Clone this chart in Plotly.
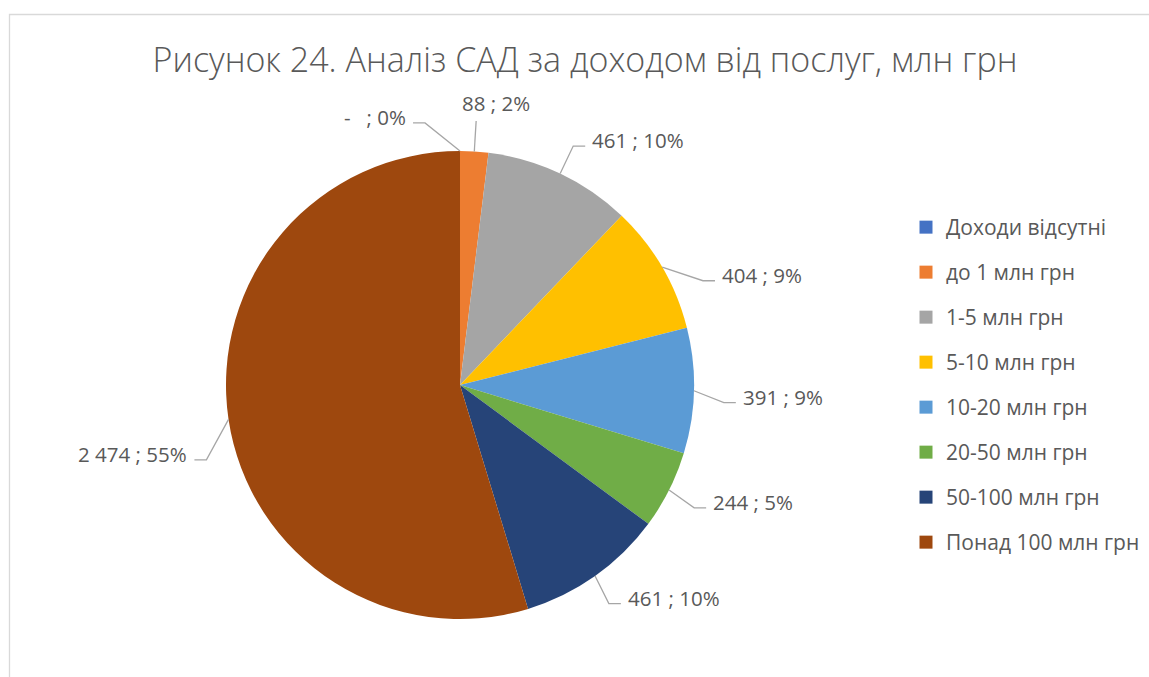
import math
import plotly.graph_objects as go

# ---- data ----
categories = ["Доходи відсутні", "до 1 млн грн", "1-5 млн грн", "5-10 млн грн",
              "10-20 млн грн", "20-50 млн грн", "50-100 млн грн", "Понад 100 млн грн"]
values = [0, 88, 461, 404, 391, 244, 461, 2474]
colors = ["#4472C4", "#ED7D31", "#A5A5A5", "#FFC000",
          "#5B9BD5", "#70AD47", "#264478", "#9E480E"]
title_text = "Рисунок 24. Аналіз САД за доходом від послуг, млн грн"

# ---- layout constants (pixels) ----
W, H = 1149, 677
CX, CY, R = 460, 385, 234
label_nudge_deg = [-7.6, 0, 0, 7, 2.4, 1, 1, -8]   # label placement tweaks
ELBOW = 1.13
SEG = 12
GAP = 5
TXT = "#595959"
LEAD = "#A6A6A6"


def px(x):
    return x / W


def py(y):
    return 1 - y / H


def fmt_val(v):
    if v == 0:
        return "-  "
    return f"{v:,}".replace(",", " ")


total = sum(values)
fig = go.Figure()
fig.add_trace(go.Pie(
    labels=categories, values=values, sort=False, direction="clockwise",
    rotation=0, marker=dict(colors=colors, line=dict(width=0)),
    textinfo="none", hoverinfo="label+value+percent", showlegend=False,
    domain=dict(x=[px(CX - R), px(CX + R)], y=[py(CY + R), py(CY - R)]),
))

# legend entries
for c, col in zip(categories, colors):
    fig.add_trace(go.Scatter(
        x=[None], y=[None], mode="markers", name=c, legendgroup=c,
        marker=dict(symbol="square", size=13, color=col),
    ))

shapes = []
annotations = []
cum = 0
for i, v in enumerate(values):
    mid = (cum + v / 2) / total * 360
    cum += v
    a_edge = math.radians(mid)
    ex, ey = CX + R * math.sin(a_edge), CY - R * math.cos(a_edge)
    a_lab = math.radians(mid + label_nudge_deg[i])
    bx, by = CX + ELBOW * R * math.sin(a_lab), CY - ELBOW * R * math.cos(a_lab)
    text = f"{fmt_val(v)} ; {round(v / total * 100)}%"
    s = math.sin(a_lab)
    if abs(s) < 0.1:
        path = f"M{px(ex)},{py(ey)} L{px(bx)},{py(by)}"
        annotations.append(dict(x=px(bx), y=py(by - 2), text=text, xanchor="center",
                                yanchor="bottom", showarrow=False, xshift=20))
    else:
        d = 1 if s > 0 else -1
        tx = bx + d * SEG
        path = f"M{px(ex)},{py(ey)} L{px(bx)},{py(by)} L{px(tx)},{py(by)}"
        annotations.append(dict(x=px(tx + d * GAP), y=py(by - 6), text=text,
                                xanchor="left" if d > 0 else "right",
                                yanchor="middle", showarrow=False))
    shapes.append(dict(type="path", path=path, xref="paper", yref="paper",
                       line=dict(color=LEAD, width=1.3)))

for a in annotations:
    a.update(xref="paper", yref="paper",
             font=dict(family="Open Sans", size=20.5, color=TXT))

# outer border of chart area
shapes.append(dict(type="rect", xref="paper", yref="paper",
                   x0=px(9.5), y0=-0.05, x1=1.05, y1=py(14.5),
                   line=dict(color="#D9D9D9", width=1.3), fillcolor="rgba(0,0,0,0)",
                   layer="below"))

fig.update_layout(
    width=W, height=H,
    margin=dict(l=0, r=0, t=0, b=0),
    paper_bgcolor="white", plot_bgcolor="white",
    title=dict(text=title_text, x=px(585), xanchor="center", y=py(60), yanchor="middle",
               font=dict(family="Open Sans", size=34, color=TXT, weight=300)),
    xaxis=dict(visible=False), yaxis=dict(visible=False),
    legend=dict(x=px(906), y=py(207), xanchor="left", yanchor="top",
                font=dict(family="Open Sans", size=21, color=TXT),
                tracegroupgap=14.7, itemwidth=30, bgcolor="rgba(0,0,0,0)"),
    shapes=shapes, annotations=annotations,
)

fig.write_html("out.html", config={"displayModeBar": False},
               post_script="document.body.style.margin='0';document.body.style.overflow='hidden';")
